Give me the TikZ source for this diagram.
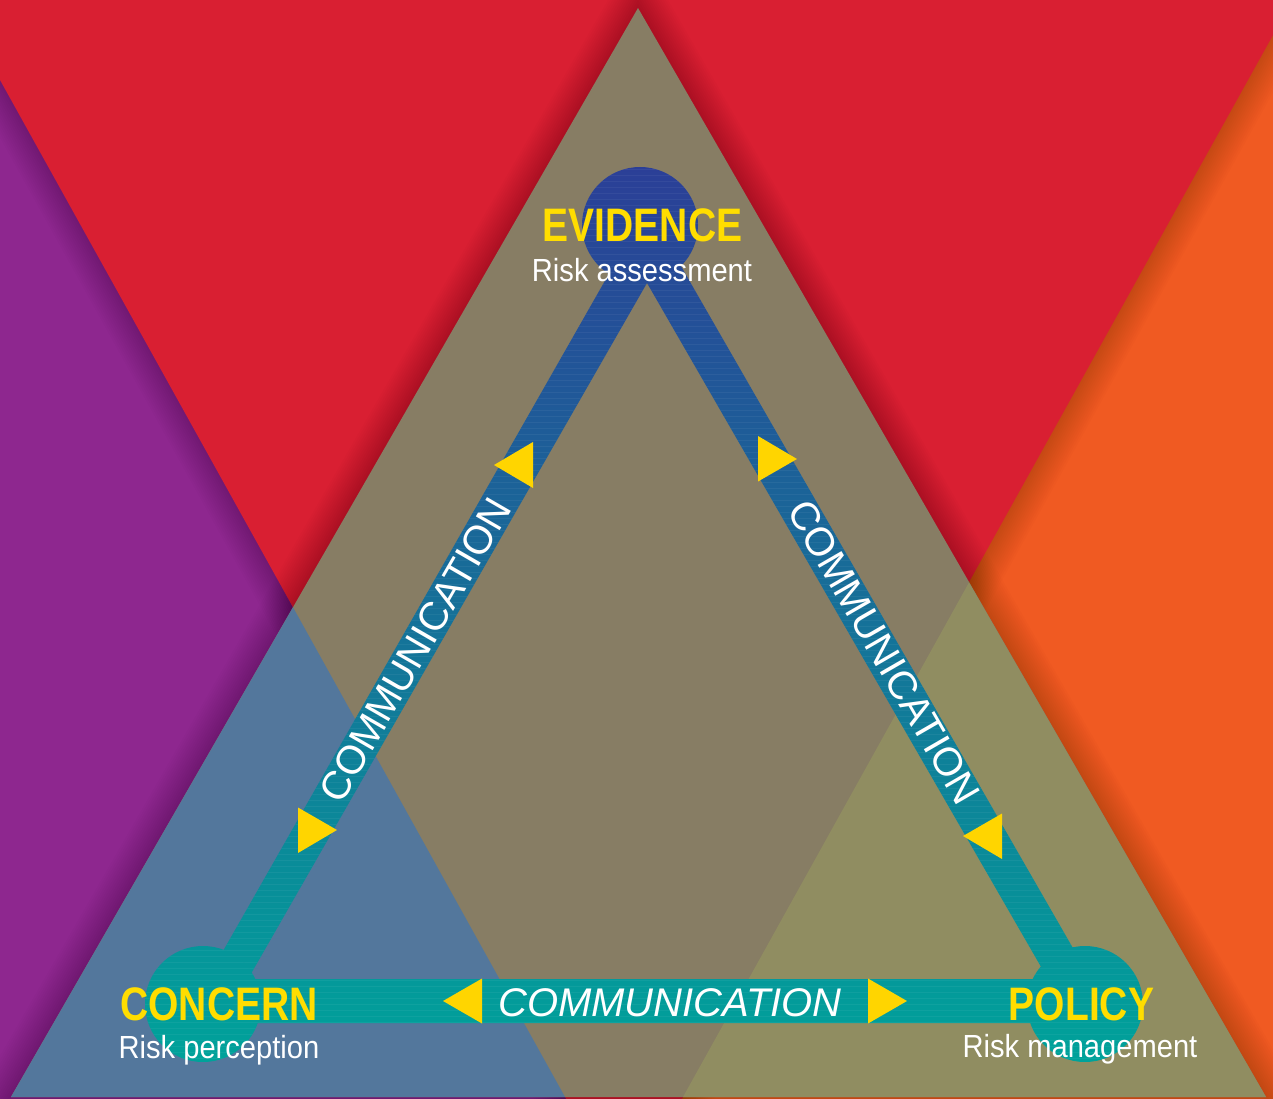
\documentclass[tikz,border=0pt]{standalone}
\usepackage{fontspec}
\setmainfont{Liberation Sans}
\newfontfamily\headfont[FakeStretch=0.83]{Liberation Sans}
\newfontfamily\subfont[FakeStretch=0.91]{Liberation Sans}
\newfontfamily\commfont{Liberation Sans}
\definecolor{bgred}{HTML}{D91F32}
\definecolor{bgpurple}{HTML}{8E278F}
\definecolor{bgorange}{HTML}{F05A22}
\definecolor{khaki}{HTML}{877D64}
\definecolor{bluegrey}{HTML}{53779C}
\definecolor{olive}{HTML}{908D61}
\definecolor{bandtop}{HTML}{2B3F97}
\definecolor{bandmid}{HTML}{0E6EAA}
\definecolor{bandbot}{HTML}{00A29A}
\definecolor{arrowyellow}{HTML}{FFD500}
\definecolor{headyellow}{HTML}{FFDD00}
\begin{document}
\begin{tikzpicture}[x=1pt,y=-1pt,
  arrowtri/.style={fill=arrowyellow},
  headlabel/.style={anchor=base, inner sep=0pt, text=headyellow, font=\headfont\bfseries\fontsize{47}{50}\selectfont},
  sublabel/.style={anchor=base, inner sep=0pt, text=white, font=\subfont\fontsize{32}{36}\selectfont},
  commlabel/.style={inner sep=0pt, text=white, font=\commfont\fontsize{40}{44}\selectfont},
  shadowline/.style={draw=black, opacity=0.012, line join=miter}
]
\useasboundingbox (0,0) rectangle (1273,1099);
\clip (0,0) rectangle (1273,1099);

% background
\fill[bgpurple] (-10,-60) rectangle (636,1110);
\fill[bgorange] (636,-60) rectangle (1290,1110);
\foreach \w in {4,8,...,56}{
  \draw[shadowline, line width=\w pt] (-50,-10) -- (624,1203) -- (1320,-49.6);
}
\fill[bgred] (-50,-70) -- (-50,-10) -- (624,1203) -- (1320,-49.6) -- (1320,-70) -- cycle;

% big triangle
\foreach \w in {4,8,...,60}{
  \draw[shadowline, line width=\w pt] (638,8) -- (11,1097) -- (1266,1097) -- cycle;
}
\fill[khaki] (638,8) -- (11,1097) -- (1266,1097) -- cycle;
\fill[bluegrey] (293,607.3) -- (11,1097) -- (565,1097) -- cycle;
\fill[olive] (969,582.5) -- (1266,1097) -- (683,1097) -- cycle;

% communication band
\begin{scope}[even odd rule]
  \clip (647,207) -- (182,1023) -- (1116,1023) -- cycle
        (647,283) -- (248,979) -- (1048,979) -- cycle;
  \shade[top color=bandtop, middle color=bandmid, bottom color=bandbot] (0,167) rectangle (1273,1061);
  \foreach \y in {170,176,...,1060}{\draw[white, opacity=0.05, line width=1pt] (0,\y) -- (1273,\y);}
\end{scope}
\begin{scope}
  \clip (640,225) circle[radius=58] (203,1004) circle[radius=58] (1085,1004) circle[radius=58];
  \shade[top color=bandtop, middle color=bandmid, bottom color=bandbot] (0,167) rectangle (1273,1061);
  \foreach \y in {170,176,...,1060}{\draw[white, opacity=0.05, line width=1pt] (0,\y) -- (1273,\y);}
\end{scope}

% arrows
\fill[arrowtri] (533,442) -- (533,488) -- (494,465) -- cycle;
\fill[arrowtri] (298,853) -- (337,830) -- (298,807.5) -- cycle;
\fill[arrowtri] (758,436) -- (797,459) -- (758,481.5) -- cycle;
\fill[arrowtri] (1002,859) -- (1002,813.5) -- (963,836) -- cycle;
\fill[arrowtri] (443,1001) -- (482,978.5) -- (482,1023.5) -- cycle;
\fill[arrowtri] (907,1001) -- (868,978.5) -- (868,1023.5) -- cycle;

% communication labels
\node[commlabel, rotate=60] (commleft) at (415,650) {COMMUNICATION};
\node[commlabel, rotate=-60] (commright) at (884,652) {COMMUNICATION};
\node[commlabel, anchor=base] (commbottom) at (670,1016) {\itshape COMMUNICATION};

% main labels
\node[headlabel] (evidence) at (642.5,242) {EVIDENCE};
\node[sublabel] (evidencesub) at (642,281) {Risk assessment};
\node[headlabel] (concern) at (219,1020) {CONCERN};
\node[sublabel] (concernsub) at (219,1058) {Risk perception};
\node[headlabel] (policy) at (1081.5,1020) {POLICY};
\node[sublabel] (policysub) at (1080,1057) {Risk management};
\end{tikzpicture}
\end{document}
